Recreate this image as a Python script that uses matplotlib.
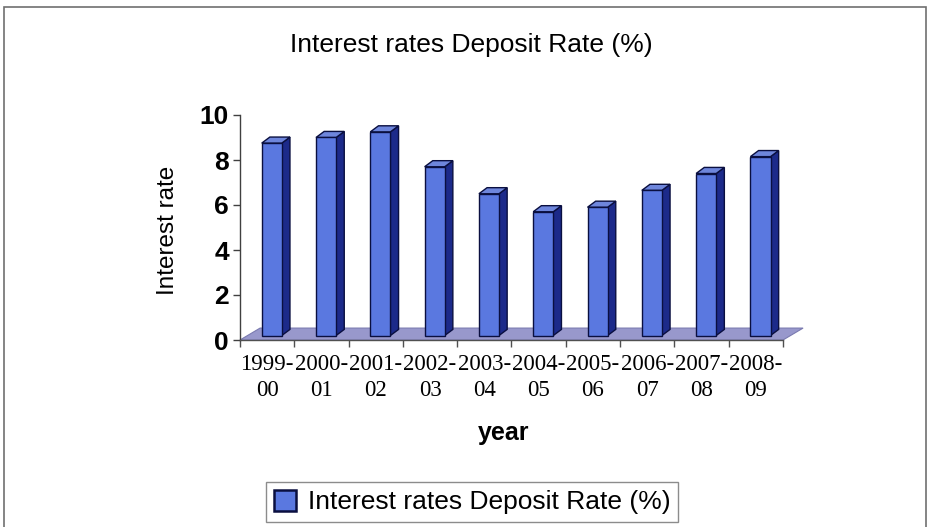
import matplotlib
matplotlib.use("Agg")
import matplotlib.pyplot as plt
from matplotlib.patches import Polygon, Rectangle
import numpy as np

# ---- data ----
categories = ["1999-\n00", "2000-\n01", "2001-\n02", "2002-\n03", "2003-\n04",
              "2004-\n05", "2005-\n06", "2006-\n07", "2007-\n08", "2008-\n09"]
deposit_rate = [8.55, 8.8, 9.05, 7.5, 6.3, 5.5, 5.7, 6.45, 7.2, 7.95]
series_name = "Interest rates Deposit Rate (%)"
title_text = "Interest rates Deposit Rate (%)"
y_ticks = [0, 2, 4, 6, 8, 10]

# ---- style ----
FRONT = "#5a78e0"
SIDE = "#1c2a8a"
TOP = "#6e86dc"
EDGE = "#0a0f40"
FLOOR = "#9898cc"

W, H = 928, 527
fig = plt.figure(figsize=(W / 100, H / 100), dpi=100)
fig.patch.set_facecolor("white")

# outer frame
fig.add_artist(Rectangle((4 / W, -0.02), (926 - 4) / W, 1 + 0.02 - 7 / H,
                         transform=fig.transFigure, fill=False,
                         edgecolor="#707070", linewidth=1.2))

ax = fig.add_axes([240 / W, (H - 340) / H, 543 / W, 225 / H])
n = len(categories)
x = np.arange(n)
ax.set_xlim(-0.5, n - 0.5)
ax.set_ylim(0, 10)

# floor (3D depth)
fdx, fdy = 0.37, 0.53
floor = Polygon([(-0.5, 0), (n - 0.5, 0), (n - 0.5 + fdx, fdy), (-0.5 + fdx, fdy)],
                closed=True, facecolor=FLOOR, edgecolor="#7a7ab0", linewidth=0.8,
                clip_on=False, zorder=1)
ax.add_patch(floor)

# 3D bars
base = 0.2
sx, w = 0.085, 0.37
ddx, ddy = 0.15, 0.27
for xi, v in zip(x, deposit_rate):
    xl = xi + sx - w / 2
    xr = xi + sx + w / 2
    top = base + v
    side = Polygon([(xr, base), (xr + ddx, base + ddy), (xr + ddx, top + ddy), (xr, top)],
                   closed=True, facecolor=SIDE, edgecolor=EDGE, linewidth=1.0,
                   clip_on=False, zorder=3)
    topf = Polygon([(xl, top), (xr, top), (xr + ddx, top + ddy), (xl + ddx, top + ddy)],
                   closed=True, facecolor=TOP, edgecolor=EDGE, linewidth=1.0,
                   clip_on=False, zorder=3)
    front = Rectangle((xl, base), w, v, facecolor=FRONT, edgecolor=EDGE,
                      linewidth=1.0, clip_on=False, zorder=4)
    ax.add_patch(side)
    ax.add_patch(topf)
    ax.add_patch(front)

# axes styling
for s in ["top", "right"]:
    ax.spines[s].set_visible(False)
ax.spines["left"].set_color("#404040")
ax.spines["bottom"].set_color("#505050")
ax.spines["left"].set_linewidth(1.0)
ax.spines["bottom"].set_linewidth(1.0)
ax.set_facecolor("none")

ax.set_yticks(y_ticks)
ax.set_yticklabels([str(t) for t in y_ticks], fontsize=19, fontweight="bold",
                   family="Liberation Sans")
ax.tick_params(axis="y", direction="out", length=5, width=1, color="#404040", pad=3)

ax.set_xticks(x)
ax.set_xticklabels(categories, fontsize=16.5, family="Liberation Serif", linespacing=1.35)
ax.set_xticks(np.arange(-0.5, n, 1.0), minor=True)
ax.tick_params(axis="x", which="major", length=0, pad=10)
ax.tick_params(axis="x", which="minor", direction="out", length=5, width=1, color="#505050")

# texts
fig.text(471 / W, 1 - 45 / H, title_text, ha="center", va="center",
         fontsize=19, family="Liberation Sans")
fig.text(168 / W, 1 - 230 / H, "Interest rate", ha="center", va="center",
         rotation=90, fontsize=17.5, family="Liberation Sans")
fig.text(504 / W, 1 - 433 / H, "year", ha="center", va="center",
         fontsize=18, fontweight="bold", family="Liberation Sans")

# legend
handle = Rectangle((0, 0), 1, 1, facecolor=FRONT, edgecolor=EDGE, linewidth=1.8)
leg = fig.legend([handle], [series_name], loc="center",
                 bbox_to_anchor=(472 / W, 1 - 502 / H), frameon=True,
                 fancybox=False, prop={"family": "Liberation Sans", "size": 19},
                 handlelength=0.85, handleheight=0.85, handletextpad=0.45,
                 borderpad=0.3, borderaxespad=0)
leg.get_frame().set_edgecolor("#707070")
leg.get_frame().set_linewidth(1.0)

fig.savefig("out.png", dpi=100, facecolor="white")
